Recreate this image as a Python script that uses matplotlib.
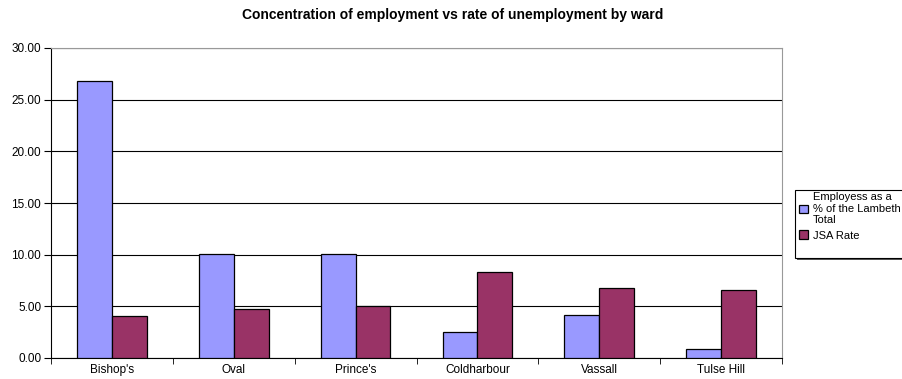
import matplotlib
matplotlib.use('Agg')
from matplotlib import pyplot as plt
import matplotlib.patches as mpatches
import numpy as np

plt.rcParams['font.family'] = ['Liberation Sans', 'DejaVu Sans']

wards = ["Bishop's", "Oval", "Prince's", "Coldharbour", "Vassall", "Tulse Hill"]
employees_pct = [26.8, 10.1, 10.1, 2.5, 4.2, 0.9]
jsa_rate = [4.05, 4.7, 5.05, 8.3, 6.75, 6.55]
y_ticks = [0, 5, 10, 15, 20, 25, 30]

fig = plt.figure(figsize=(9.03, 3.79), dpi=100)
ax = fig.add_axes([51/903, 21/379, (782-51)/903, (358-48)/379])

x = np.arange(len(wards))
w = 1/3.5
ax.bar(x - w/2, employees_pct, w, color='#9999FF', edgecolor='black', linewidth=0.9,
       label='Employess as a\n% of the Lambeth\nTotal', zorder=3)
ax.bar(x + w/2, jsa_rate, w, color='#993366', edgecolor='black', linewidth=0.9,
       label='JSA Rate', zorder=3)

ax.set_xlim(-0.5, len(wards) - 0.5)
ax.set_ylim(0, 30)
ax.set_yticks(y_ticks)
ax.set_yticklabels(['%.2f' % v for v in y_ticks], fontsize=8.5)
ax.yaxis.grid(True, color='black', linewidth=0.8, zorder=0)

ax.set_xticks(x)
ax.set_xticklabels(wards, fontsize=8.5)
ax.set_xticks(np.arange(len(wards) + 1) - 0.5, minor=True)
ax.tick_params(axis='x', which='major', length=0, pad=4)
ax.tick_params(axis='x', which='minor', length=4, direction='out', color='black')
ax.tick_params(axis='y', length=5, direction='out', color='black', pad=2)

for side in ['top', 'right']:
    ax.spines[side].set_color('#999999')
for side in ['left', 'bottom']:
    ax.spines[side].set_color('black')

fig.text(453/903, 1 - 15/379, 'Concentration of employment vs rate of unemployment by ward',
         ha='center', va='center', fontsize=10, fontweight='bold')

# legend box (runs off the right edge like the original)
box = mpatches.Rectangle((795/903, 1 - 258/379), 120/903, 68/379, transform=fig.transFigure,
                         facecolor='white', edgecolor='black', linewidth=0.8)
fig.patches.append(box)
shadow = mpatches.Rectangle((797/903, 1 - 260/379), 120/903, 68/379, transform=fig.transFigure,
                            facecolor='#555555', edgecolor='none', zorder=-1)
fig.patches.insert(0, shadow)
leg = fig.legend(loc='upper left', bbox_to_anchor=(797/903, 1 - 190/379), frameon=False,
                 fontsize=8, handlelength=0.8, handleheight=0.8, handletextpad=0.4,
                 labelspacing=0.45, borderpad=0.2, borderaxespad=0)

plt.savefig('out.png', dpi=100)
plt.close()
